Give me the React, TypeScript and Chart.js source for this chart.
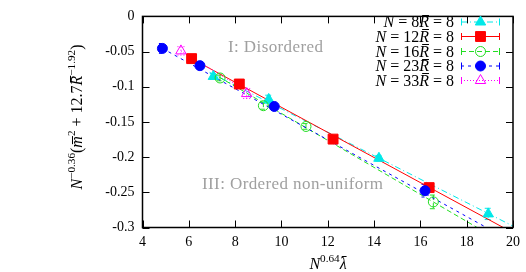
import React, { useEffect, useRef } from 'react';
import { Chart, registerables } from 'chart.js';
Chart.register(...registerables);

// ---- axis ranges / ticks ----
const xMin = 4, xMax = 20, xStep = 2;
const yMin = -0.3, yMax = 0, yStep = 0.05;

// ---- series labels (N values, R̄ = 8) ----
const seriesN = ['8', '12', '16', '23', '33'];
const seriesR = '8';

// ---- data points (x = N^0.64 λ̄, y), with y error ----
const n8X = [7.06, 9.45, 14.21, 18.93];
const n8Y = [-0.0853, -0.118, -0.2016, -0.2807];
const n8Err = [0.004, 0.006, 0.004, 0.008];

const n12X = [6.12, 8.18, 12.23, 16.38];
const n12Y = [-0.060, -0.0961, -0.1744, -0.2433];
const n12Err = [0.003, 0.003, 0.003, 0.004];

const n16X = [7.35, 9.22, 11.06, 16.56];
const n16Y = [-0.0875, -0.1269, -0.1564, -0.2636];
const n16Err = [0.004, 0.005, 0.004, 0.0097];

const n23X = [4.86, 6.48, 9.69, 16.2];
const n23Y = [-0.0455, -0.070, -0.128, -0.2477];
const n23Err = [0.007, 0.004, 0.004, 0.009];

const n33X = [5.66, 8.5];
const n33Y = [-0.049, -0.1097];
const n33Err = [0.006, 0.007];

// ---- fitted lines (endpoints) ----
const fit8X = [6.9, 20.0];
const fit8Y = [-0.0796, -0.298];
const fit12X = [6.12, 19.58];
const fit12Y = [-0.060, -0.300];
const fit16X = [7.3, 18.45];
const fit16Y = [-0.086, -0.300];
const fit23X = [4.86, 18.79];
const fit23Y = [-0.0455, -0.2989];
const fit33X = [5.66, 8.6];
const fit33Y = [-0.049, -0.108];

const pointsX = [n8X, n12X, n16X, n23X, n33X];
const pointsY = [n8Y, n12Y, n16Y, n23Y, n33Y];
const pointsErr = [n8Err, n12Err, n16Err, n23Err, n33Err];
const fitsX = [fit8X, fit12X, fit16X, fit23X, fit33X];
const fitsY = [fit8Y, fit12Y, fit16Y, fit23Y, fit33Y];

// ---- styles ----
const COLORS = ['#00e8e8', '#ff0000', '#22dd22', '#0000ff', '#ff00ff'];
const DASHES = [[6, 3, 1, 3], [], [5, 3], [3, 4], [1, 2]];
const PSTYLE = ['triangle', 'rect', 'circle', 'circle', 'triangle'];
const PFILLED = [true, true, false, true, false];
const PRADIUS = [6, 7, 5, 5, 6];

const FONT = '"Liberation Serif", "DejaVu Serif", serif';

type Part = { t: string; it?: boolean; sup?: boolean; bar?: number };

function partFont(p: Part, size: number) {
  return `${p.it ? 'italic ' : ''}${p.sup ? size * 0.7 : size}px ${FONT}`;
}

function drawRich(ctx: CanvasRenderingContext2D, parts: Part[], x: number, y: number, size: number, align: 'left' | 'center' | 'right') {
  let total = 0;
  const widths = parts.map((p) => {
    ctx.font = partFont(p, size);
    const w = ctx.measureText(p.t).width;
    total += w;
    return w;
  });
  let cx = align === 'left' ? x : align === 'center' ? x - total / 2 : x - total;
  ctx.textAlign = 'left';
  ctx.textBaseline = 'alphabetic';
  parts.forEach((p, i) => {
    ctx.font = partFont(p, size);
    const dy = p.sup ? -size * 0.42 : 0;
    ctx.fillText(p.t, cx, y + dy);
    if (p.bar) {
      ctx.save();
      ctx.lineWidth = 1;
      ctx.strokeStyle = ctx.fillStyle as string;
      ctx.beginPath();
      const by = Math.round(y - size * p.bar) + 0.5;
      ctx.moveTo(cx + widths[i] * 0.3, by);
      ctx.lineTo(cx + widths[i] * 1.0, by);
      ctx.stroke();
      ctx.restore();
    }
    cx += widths[i];
  });
}

function drawMarker(ctx: CanvasRenderingContext2D, i: number, x: number, y: number) {
  const r = PRADIUS[i];
  ctx.save();
  ctx.setLineDash([]);
  ctx.strokeStyle = COLORS[i];
  ctx.fillStyle = COLORS[i];
  ctx.lineWidth = 1;
  ctx.beginPath();
  if (PSTYLE[i] === 'circle') {
    ctx.arc(x, y, r, 0, Math.PI * 2);
  } else if (PSTYLE[i] === 'rect') {
    const s = Math.SQRT1_2 * r;
    ctx.rect(x - s, y - s, 2 * s, 2 * s);
  } else {
    let rad = 0;
    ctx.moveTo(x + Math.sin(rad) * r, y - Math.cos(rad) * r);
    rad += (2 * Math.PI) / 3;
    ctx.lineTo(x + Math.sin(rad) * r, y - Math.cos(rad) * r);
    rad += (2 * Math.PI) / 3;
    ctx.lineTo(x + Math.sin(rad) * r, y - Math.cos(rad) * r);
    ctx.closePath();
  }
  if (PFILLED[i]) ctx.fill();
  ctx.stroke();
  ctx.restore();
}

const errorBarPlugin = {
  id: 'errorBars',
  beforeDatasetsDraw(chart: any) {
    const { ctx, scales } = chart;
    const xs = scales.x, ys = scales.y;
    ctx.save();
    ctx.lineWidth = 1;
    pointsX.forEach((arrX, i) => {
      ctx.strokeStyle = COLORS[i];
      ctx.setLineDash(DASHES[i]);
      arrX.forEach((xv, j) => {
        const px = xs.getPixelForValue(xv);
        const y1 = ys.getPixelForValue(pointsY[i][j] + pointsErr[i][j]);
        const y2 = ys.getPixelForValue(pointsY[i][j] - pointsErr[i][j]);
        ctx.beginPath();
        ctx.moveTo(px, y1);
        ctx.lineTo(px, y2);
        ctx.moveTo(px - 3.5, y1);
        ctx.lineTo(px + 3.5, y1);
        ctx.moveTo(px - 3.5, y2);
        ctx.lineTo(px + 3.5, y2);
        ctx.stroke();
      });
    });
    ctx.restore();
  },
};

const decorPlugin = {
  id: 'decor',
  afterDraw(chart: any) {
    const { ctx, chartArea, scales } = chart;
    const { left, right, top, bottom } = chartArea;
    ctx.save();
    // frame
    ctx.strokeStyle = '#000';
    ctx.lineWidth = 1.5;
    ctx.setLineDash([]);
    ctx.strokeRect(left, top, right - left, bottom - top);
    // inward ticks
    ctx.lineWidth = 1;
    const tl = 7;
    ctx.beginPath();
    for (let v = xMin; v <= xMax + 1e-9; v += xStep) {
      const px = Math.round(scales.x.getPixelForValue(v)) + 0.5;
      ctx.moveTo(px, bottom);
      ctx.lineTo(px, bottom - tl);
      ctx.moveTo(px, top);
      ctx.lineTo(px, top + tl);
    }
    for (let v = yMin; v <= yMax + 1e-9; v += yStep) {
      const py = Math.round(scales.y.getPixelForValue(v)) + 0.5;
      ctx.moveTo(left, py);
      ctx.lineTo(left + tl, py);
      ctx.moveTo(right, py);
      ctx.lineTo(right - tl, py);
    }
    ctx.stroke();

    // region labels
    ctx.fillStyle = '#a0a0a0';
    ctx.font = `17px ${FONT}`;
    (ctx as any).letterSpacing = '0.4px';
    ctx.textAlign = 'left';
    ctx.textBaseline = 'middle';
    ctx.fillText('I: Disordered', 228, 48);
    ctx.fillText('III: Ordered non-uniform', 202, 184.5);
    (ctx as any).letterSpacing = '0px';

    // legend
    const rowY = [21.5, 36, 51, 65.5, 80];
    seriesN.forEach((n, i) => {
      const y = rowY[i];
      ctx.fillStyle = '#000';
      drawRich(ctx, [
        { t: 'N', it: true },
        { t: ' = ' + n },
        { t: 'R', it: true, bar: 0.78 },
        { t: ' = ' + seriesR },
      ], 454, y + 5.5, 16, 'right');
      ctx.strokeStyle = COLORS[i];
      ctx.lineWidth = 1;
      ctx.setLineDash(DASHES[i]);
      ctx.beginPath();
      ctx.moveTo(461, y + 0.5);
      ctx.lineTo(500, y + 0.5);
      ctx.stroke();
      ctx.setLineDash([]);
      ctx.beginPath();
      ctx.moveTo(461.5, y - 3);
      ctx.lineTo(461.5, y + 4);
      ctx.moveTo(499.5, y - 3);
      ctx.lineTo(499.5, y + 4);
      ctx.stroke();
      drawMarker(ctx, i, 480.5, y + 0.5);
    });

    // axis titles
    ctx.fillStyle = '#000';
    drawRich(ctx, [
      { t: 'N', it: true },
      { t: '0.64', sup: true },
      { t: 'λ', it: true, bar: 0.82 },
    ], 328, 269, 16, 'center');

    ctx.save();
    ctx.translate(82, 117);
    ctx.rotate(-Math.PI / 2);
    drawRich(ctx, [
      { t: 'N', it: true },
      { t: '−0.36', sup: true },
      { t: '(' },
      { t: 'm', it: true, bar: 0.6 },
      { t: '2', sup: true },
      { t: ' + 12.7' },
      { t: 'R', it: true, bar: 0.78 },
      { t: '−1.92', sup: true },
      { t: ')' },
    ], 0, 0, 16, 'center');
    ctx.restore();

    ctx.restore();
  },
};

export default function App() {
  const ref = useRef<HTMLCanvasElement | null>(null);
  useEffect(() => {
    if (!ref.current) return;
    const datasets: any[] = [];
    fitsX.forEach((fx, i) => {
      datasets.push({
        type: 'line',
        data: fx.map((x, j) => ({ x, y: fitsY[i][j] })),
        borderColor: COLORS[i],
        borderWidth: 1,
        borderDash: DASHES[i],
        pointRadius: 0,
        showLine: true,
        fill: false,
        tension: 0,
        order: 20 - i,
      });
    });
    pointsX.forEach((px, i) => {
      datasets.push({
        type: 'scatter',
        data: px.map((x, j) => ({ x, y: pointsY[i][j] })),
        borderColor: COLORS[i],
        backgroundColor: PFILLED[i] ? COLORS[i] : 'rgba(0,0,0,0)',
        borderWidth: 1,
        pointStyle: PSTYLE[i],
        pointRadius: PRADIUS[i],
        showLine: false,
        order: 10 - i,
      });
    });
    const chart = new Chart(ref.current, {
      type: 'scatter',
      data: { datasets },
      options: {
        animation: false,
        responsive: false,
        events: [],
        layout: { padding: { top: 6.5, right: 13, left: 0, bottom: 0 } },
        plugins: { legend: { display: false }, tooltip: { enabled: false } },
        scales: {
          x: {
            type: 'linear',
            min: xMin,
            max: xMax,
            ticks: {
              stepSize: xStep,
              color: '#000',
              font: { family: FONT, size: 14 },
              padding: 6,
              maxRotation: 0,
            },
            grid: { display: false, drawTicks: false },
            border: { display: false },
            afterFit: (s: any) => { s.height = 44.5; },
          },
          y: {
            type: 'linear',
            min: yMin,
            max: yMax,
            ticks: {
              stepSize: yStep,
              color: '#000',
              font: { family: FONT, size: 14 },
              padding: 8,
              callback: (v: any) => String(Number(Number(v).toFixed(2))),
            },
            grid: { display: false, drawTicks: false },
            border: { display: false },
            afterFit: (s: any) => { s.width = 142.5; },
          },
        },
      },
      plugins: [errorBarPlugin, decorPlugin],
    });
    return () => chart.destroy();
  }, []);
  return (
    <div style={{ position: 'fixed', left: 0, top: 0, width: 526, height: 272, background: '#fff' }}>
      <canvas ref={ref} width={526} height={272} style={{ width: 526, height: 272, display: 'block' }} />
    </div>
  );
}
